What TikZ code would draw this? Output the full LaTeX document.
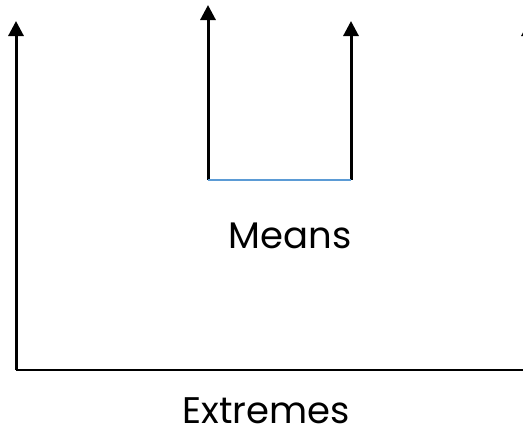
\documentclass[tikz,border=0pt]{standalone}
\usepackage{fontspec}
\setmainfont{Poppins}
\usetikzlibrary{arrows.meta,positioning}
\definecolor{lineblue}{RGB}{91,155,213}
\tikzset{
  uparrow/.style={-{Triangle[length=15pt,width=15pt]}, line width=3pt},
  baseline/.style={draw=black, line width=2pt},
  bridge/.style={draw=lineblue, line width=1.5pt},
  label/.style={anchor=base, inner sep=0pt, font=\fontsize{37}{42}\selectfont}
}
\begin{document}
\begin{tikzpicture}[x=1pt,y=-1pt]
\useasboundingbox (0,0) rectangle (523,434);
% base points
\coordinate (lb) at (16,370);
\coordinate (lt) at (16,21);
\coordinate (mlb) at (208,180);
\coordinate (mlt) at (208,5);
\coordinate (mrb) at (351,180);
\coordinate (mrt) at (351,21);
\coordinate (rb) at (529,370);
\coordinate (rt) at (529,21);
\draw[uparrow] (lb) -- (lt);
\draw[uparrow] (mlb) -- (mlt);
\draw[uparrow] (mrb) -- (mrt);
\draw[uparrow] (rb) -- (rt);
\draw[bridge] (mlb) -- (mrb);
\draw[baseline] (lb) -- (rb);
\node[label] (means) at (290,248) {Means};
\node[label] (extremes) at (266,423) {Extremes};
\end{tikzpicture}
\end{document}
